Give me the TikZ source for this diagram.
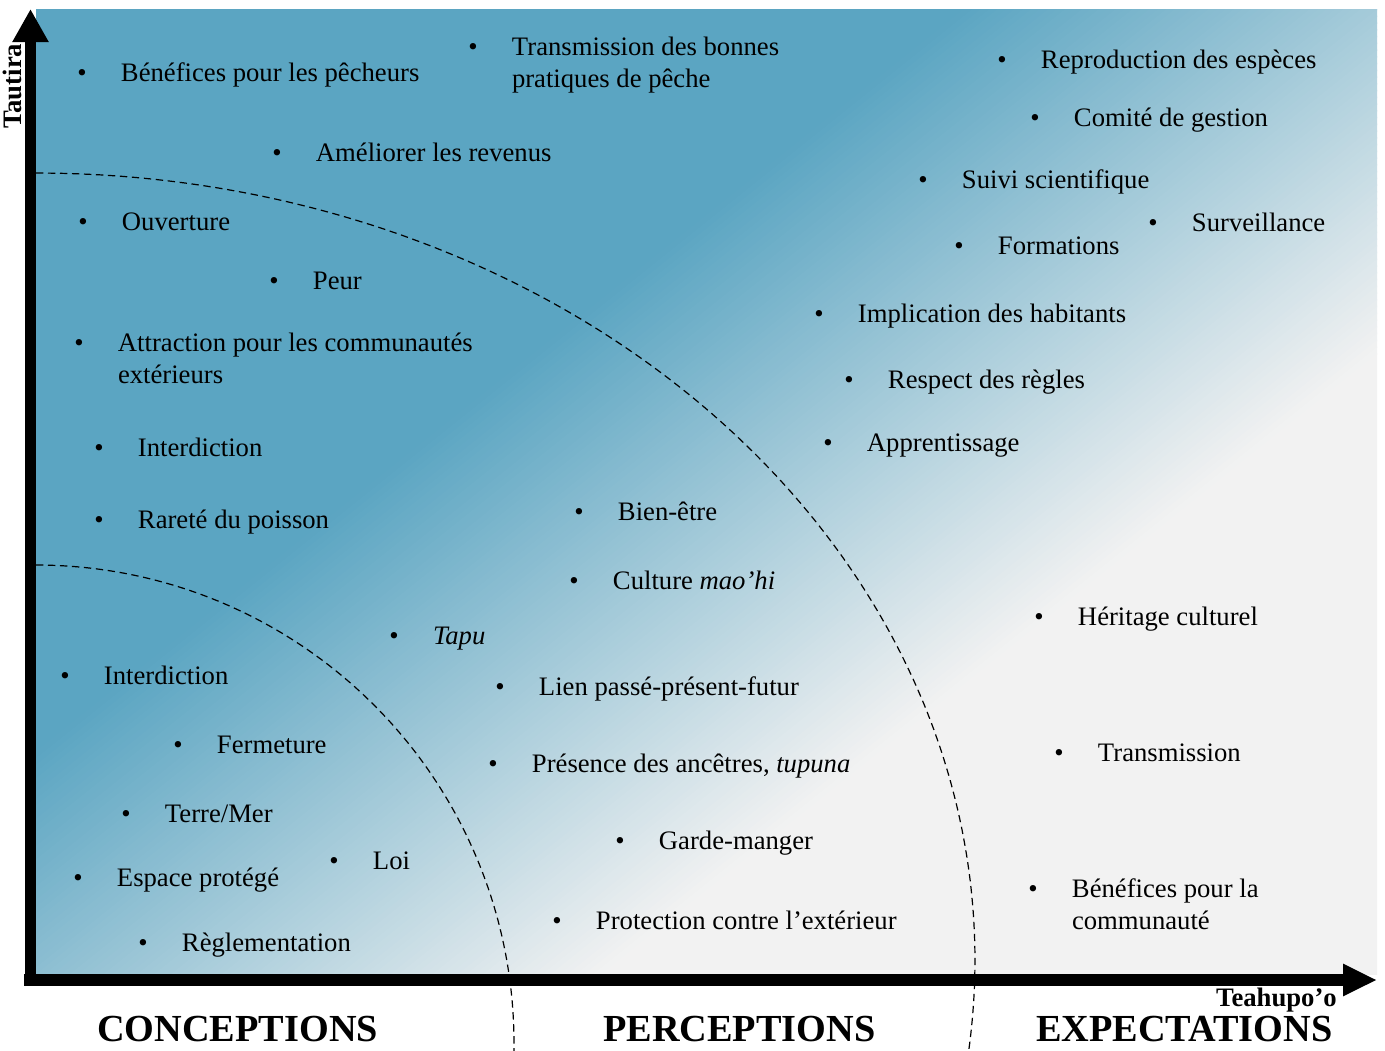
\documentclass[tikz,border=0pt]{standalone}
\usepackage{fontspec}
\setmainfont{Liberation Serif}
\usetikzlibrary{arrows.meta}
\definecolor{bgblue}{RGB}{91,165,194}
\definecolor{bggrey}{RGB}{242,242,242}
\newcommand\bitem[4]{\node[item] (#1) at (#2,#3) {\begin{tabular}[t]{@{}l@{}}\llap{\textbullet\hspace{25.75pt}}#4\end{tabular}};}
\begin{document}
\begin{tikzpicture}[x=0.75pt,y=-0.75pt,
  item/.style={anchor=base west, inner sep=0pt, outer sep=0pt, font=\fontsize{20pt}{24.5pt}\selectfont},
  title/.style={anchor=base west, inner sep=0pt, font=\fontsize{28.7pt}{32pt}\selectfont\bfseries},
  axislabel/.style={inner sep=0pt, font=\fontsize{20pt}{24pt}\selectfont\bfseries},
  arcline/.style={line width=0.9pt, dash pattern=on 5.5pt off 3.5pt},
]
\useasboundingbox (0,0) rectangle (1385,1050);
\fill[white] (0,0) rectangle (1385,1050);
% background gradient (bands along 0.8x + y = c)
\begin{scope}
  \clip (36,9) rectangle (1377,974);
  \fill[bgblue] (36,9) rectangle (1377,974);
  \foreach \i in {0,...,99}{
    \pgfmathsetmacro\ca{780+\i*6.75}
    \pgfmathsetmacro\cb{\ca+8}
    \pgfmathsetmacro\pct{(\i+0.5)}
    \fill[bggrey!\pct!bgblue] (-100,{\ca+80}) -- (1500,{\ca-1200}) -- (1500,{\cb-1200}) -- (-100,{\cb+80}) -- cycle;
  }
  \fill[bggrey] (-100,1535) -- (1500,255) -- (1500,3000) -- (-100,3000) -- cycle;
\end{scope}
% dashed arcs
\begin{scope}
  \clip (0,0) rectangle (1385,1050);
  \draw[arcline] plot[domain=90:-8, samples=150, variable=\t] ({36+939*cos(\t)},{960-787*sin(\t)});
  \draw[arcline] plot[domain=90:-2, samples=120, variable=\t] ({36+478*cos(\t)},{1043-478*sin(\t)});
\end{scope}
% axes
\coordinate (yfoot) at (30.5,986);
\coordinate (ytip) at (30.5,9);
\coordinate (xfoot) at (24,980);
\coordinate (xtip) at (1377,980);
\draw[line width=8.25pt, -{Triangle[width=25.5pt,length=24.75pt]}] (yfoot) -- (ytip);
\draw[line width=9pt, -{Triangle[width=22.5pt,length=25.5pt]}] (xfoot) -- (xtip);
% items
\bitem{c1}{121}{81}{Bénéfices pour les pêcheurs}
\bitem{c2}{512}{55}{Transmission des bonnes\\pratiques de pêche}
\bitem{e1}{1041}{68}{Reproduction des espèces}
\bitem{e2}{1074}{126}{Comité de gestion}
\bitem{c3}{316}{161}{Améliorer les revenus}
\bitem{e3}{962}{188}{Suivi scientifique}
\bitem{c4}{122}{230}{Ouverture}
\bitem{e4}{1192}{231}{Surveillance}
\bitem{e5}{998}{254}{Formations}
\bitem{c5}{313}{289}{Peur}
\bitem{e6}{858}{322}{Implication des habitants}
\bitem{c6}{118}{351}{Attraction pour les communautés\\extérieurs}
\bitem{e7}{888}{388}{Respect des règles}
\bitem{e8}{867}{451}{Apprentissage}
\bitem{c7}{138}{456}{Interdiction}
\bitem{p1}{618}{520}{Bien-être}
\bitem{c8}{138}{528}{Rareté du poisson}
\bitem{p2}{613}{589}{Culture \textit{mao’hi}}
\bitem{e9}{1078}{625}{Héritage culturel}
\bitem{p3}{433}{644}{\textit{Tapu}}
\bitem{k1}{104}{684}{Interdiction}
\bitem{p4}{539}{695}{Lien passé-présent-futur}
\bitem{k2}{217}{753}{Fermeture}
\bitem{e10}{1098}{761}{Transmission}
\bitem{p5}{532}{772}{Présence des ancêtres, \textit{tupuna}}
\bitem{k3}{165}{822}{Terre/Mer}
\bitem{p6}{659}{849}{Garde-manger}
\bitem{k4}{373}{869}{Loi}
\bitem{k5}{117}{886}{Espace protégé}
\bitem{e11}{1072}{897}{Bénéfices pour la\\communauté}
\bitem{p7}{596}{929}{Protection contre l’extérieur}
\bitem{k6}{182}{951}{Règlementation}
% titles and axis labels
\node[title] (conc) at (97,1041) {CONCEPTIONS};
\node[title] (perc) at (603,1041) {PERCEPTIONS};
\node[title] (expe) at (1036,1041) {EXPECTATIONS};
\node[axislabel, anchor=base east] (xlab) at (1337,1006) {Teahupo’o};
\node[axislabel, rotate=90, anchor=base west] (ylab) at (21.5,129) {Tautira};
\end{tikzpicture}
\end{document}
